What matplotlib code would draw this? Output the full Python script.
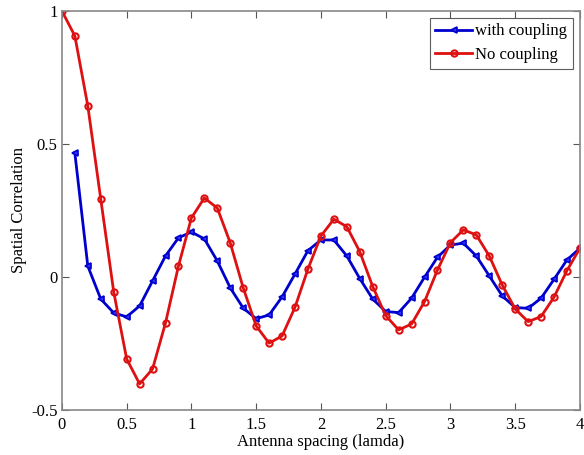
import matplotlib
matplotlib.use("Agg")
import matplotlib.pyplot as plt
import numpy as np

plt.rcParams['font.family'] = ['Liberation Serif', 'DejaVu Serif']

x_red = [round(0.1 * i, 1) for i in range(41)]
no_coupling = [1.0, 0.906, 0.643, 0.293, -0.056, -0.308, -0.402, -0.346, -0.173, 0.041,
               0.222, 0.297, 0.259, 0.128, -0.041, -0.184, -0.249, -0.222, -0.114, 0.030,
               0.154, 0.217, 0.189, 0.095, -0.036, -0.145, -0.199, -0.177, -0.093, 0.026,
               0.129, 0.177, 0.158, 0.079, -0.030, -0.120, -0.168, -0.149, -0.076, 0.024,
               0.108]

x_blue = [round(0.1 * i, 1) for i in range(1, 41)]
with_coupling = [0.466, 0.041, -0.083, -0.135, -0.150, -0.109, -0.015, 0.079, 0.147,
                 0.169, 0.143, 0.060, -0.041, -0.117, -0.157, -0.143, -0.075, 0.011, 0.099,
                 0.139, 0.139, 0.079, -0.006, -0.083, -0.130, -0.134, -0.080, -0.001, 0.074,
                 0.120, 0.127, 0.079, 0.004, -0.071, -0.115, -0.118, -0.080, -0.009, 0.064,
                 0.108]

xticks = [0, 0.5, 1, 1.5, 2, 2.5, 3, 3.5, 4]
xticklabels = ['0', '0.5', '1', '1.5', '2', '2.5', '3', '3.5', '4']
yticks = [-0.5, 0, 0.5, 1]
yticklabels = ['-0.5', '0', '0.5', '1']

fig = plt.figure(figsize=(5.84, 4.55), dpi=100)
ax = fig.add_axes([0.106, 0.099, 0.887, 0.877])

ax.plot(x_blue, with_coupling, color='#0000cc', lw=2, marker='<', ms=5,
        mfc='#3333ff', mec='#0000cc', mew=1.2, label='with coupling')
ax.plot(x_red, no_coupling, color='#dd1111', lw=2, marker='o', ms=4.5,
        mfc='none', mec='#dd1111', mew=1.5, label='No coupling')

ax.set_xlim(0, 4)
ax.set_ylim(-0.5, 1)
ax.set_xticks(xticks)
ax.set_xticklabels(xticklabels)
ax.set_yticks(yticks)
ax.set_yticklabels(yticklabels)
ax.tick_params(direction='in', top=True, right=True, labelsize=12, length=5,
               color='#555555', pad=3)
ax.tick_params(axis='x', pad=5)
for s in ax.spines.values():
    s.set_color('#888888')
    s.set_linewidth(1.2)

ax.set_xlabel('Antenna spacing (lamda)', fontsize=12, labelpad=1)
ax.set_ylabel('Spatial Correlation', fontsize=12, labelpad=3)

leg = ax.legend(loc='upper right', fontsize=12, frameon=True, fancybox=False,
                edgecolor='#333333', handlelength=2.2, handletextpad=0.2,
                borderpad=0.35, labelspacing=0.45, borderaxespad=0.4)
leg.get_frame().set_linewidth(0.8)

fig.savefig('out.png', dpi=100)
